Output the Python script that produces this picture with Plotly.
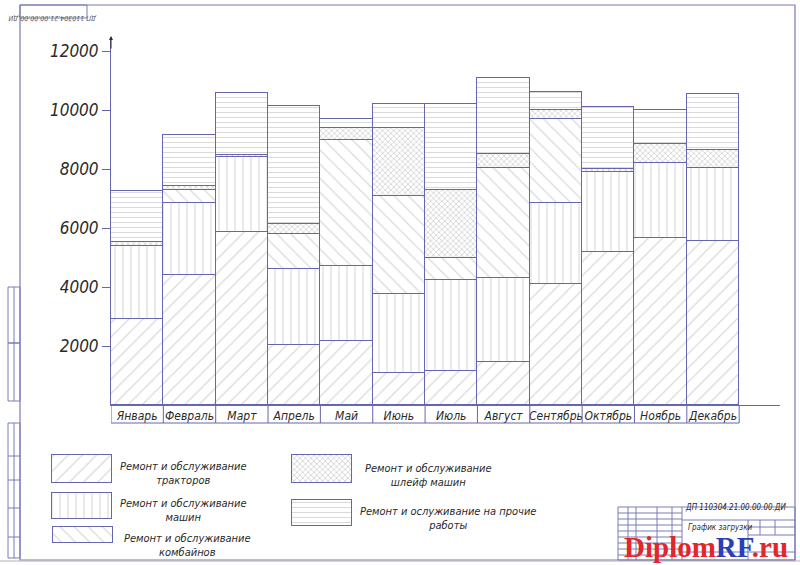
import plotly.graph_objects as go

months = ["Январь", "Февраль", "Март", "Апрель", "Май", "Июнь",
          "Июль", "Август", "Сентябрь", "Октябрь", "Ноябрь", "Декабрь"]

# загрузка по видам работ, чел.-ч (снизу вверх)
tractors = [2900, 4400, 5850, 2050, 2170, 1100, 1150, 1450, 4100, 5200, 5650, 5550]
machines = [2500, 2450, 2550, 2550, 2530, 2650, 3100, 2850, 2750, 2700, 2550, 2470]
combines = [0, 450, 0, 1200, 4300, 3350, 750, 3750, 2850, 0, 0, 0]
schleif = [130, 130, 60, 350, 400, 2300, 2300, 450, 300, 100, 650, 630]
other = [1740, 1720, 2110, 4000, 300, 800, 2900, 2600, 600, 2100, 1150, 1900]

y_ticks = [2000, 4000, 6000, 8000, 10000, 12000]
y_labels = ["2000", "4000", "6000", "8000", "10000", "12000"]

names = [
    "Ремонт и обслуживание<br>тракторов",
    "Ремонт и обслуживание<br>машин",
    "Ремонт и обслуживание<br>комбайнов",
    "Ремонт и обслуживание<br>шлейф машин",
    "Ремонт и ослуживание на прочие<br>работы",
]

W, H = 800, 565
LINE = "#6666b0"
HATCH = "#b4b4b4"
TXT = "#2a2a2a"
FONT = "Liberation Sans Narrow, DejaVu Sans Condensed, Liberation Sans, sans-serif"


def px(x):
    return x / W


def py(y):
    return 1 - y / H


def it(s):
    # italic, line by line
    return "<br>".join(f"<i>{p}</i>" for p in s.split("<br>"))


patterns = [
    dict(shape="/", size=10, solidity=0.12, fgcolor=HATCH, bgcolor="white"),
    dict(shape="|", size=8, solidity=0.14, fgcolor=HATCH, bgcolor="white"),
    dict(shape="\\", size=10, solidity=0.12, fgcolor=HATCH, bgcolor="white"),
    dict(shape="x", size=4, solidity=0.35, fgcolor="#a0a0a8", bgcolor="white"),
    dict(shape="-", size=5, solidity=0.2, fgcolor=HATCH, bgcolor="white"),
]

fig = go.Figure()

for vals, pat, nm in zip([tractors, machines, combines, schleif, other], patterns, names):
    fig.add_trace(go.Bar(
        x=months, y=vals, name=nm, showlegend=False,
        marker=dict(color="white", pattern=pat, line=dict(color=LINE, width=1)),
        hoverinfo="skip",
    ))

# legend swatches (own hidden axes in pixel units)
swatches = [(82, 455, 28), (82, 493, 26), (83, 527, 16), (322, 455, 28), (322, 500, 26)]
text_pos = [(183, 458), (183, 495), (187, 530), (428, 460), (448, 503)]
for (cx, top, h), pat in zip(swatches, patterns):
    fig.add_trace(go.Bar(
        x=[cx], y=[h], base=[top], width=[60], xaxis="x2", yaxis="y2",
        showlegend=False, hoverinfo="skip",
        marker=dict(color="white", pattern=pat, line=dict(color=LINE, width=1)),
    ))
for (tx, ty), nm in zip(text_pos, names):
    fig.add_annotation(x=px(tx), y=py(ty), xref="paper", yref="paper", text=it(nm),
                       showarrow=False, xanchor="center", yanchor="top",
                       font=dict(family=FONT, size=11, color=TXT))

shapes = []
# label boxes under the bars
for i in range(len(months) + 1):
    shapes.append(dict(type="line", xref="x", yref="paper", x0=i - 0.5, x1=i - 0.5,
                       y0=py(423), y1=py(405), line=dict(color=LINE, width=1)))
shapes.append(dict(type="line", xref="x", yref="paper", x0=-0.5, x1=len(months) - 0.5,
                   y0=py(423), y1=py(423), line=dict(color=LINE, width=1)))

# drawing frame and stamps
FR = "#7a7ab8"
def rect(x0, y0, x1, y1, w=1, c=FR):
    shapes.append(dict(type="rect", xref="paper", yref="paper", x0=px(x0), x1=px(x1),
                       y0=py(y1), y1=py(y0), line=dict(color=c, width=w)))

def hline(x0, x1, y, c=FR):
    shapes.append(dict(type="line", xref="paper", yref="paper", x0=px(x0), x1=px(x1),
                       y0=py(y), y1=py(y), line=dict(color=c, width=1)))

def vline(x, y0, y1, c=FR):
    shapes.append(dict(type="line", xref="paper", yref="paper", x0=px(x), x1=px(x),
                       y0=py(y0), y1=py(y1), line=dict(color=c, width=1)))

rect(20, 5, 795, 560, 1.2)
rect(20, 5, 87, 18)
rect(8, 287, 20, 343)
rect(8, 343, 20, 401)
rect(8, 423, 20, 558)
for yy in [456, 480, 508, 537]:
    hline(8, 20, yy)
vline(14, 423, 558)
vline(14, 287, 401)
hline(0, 800, 561, "#b0b0b0")
# title block
rect(618, 507, 795, 560)
hline(682, 795, 520)
for xx in [628, 636, 657, 672, 682]:
    vline(xx, 507, 560)
for yy in [513, 519, 525, 531, 537, 543, 549, 555]:
    hline(618, 682, yy)
vline(748, 520, 560)
for xx in [760, 775]:
    vline(xx, 520, 535)
hline(748, 795, 527)
hline(748, 795, 535)
hline(682, 795, 552)

fig.add_annotation(x=px(53), y=py(11.5), xref="paper", yref="paper", xanchor="center",
                   text="<i>ДП 110304.21.00.00.00.ДИ</i>", showarrow=False, textangle=180,
                   font=dict(family=FONT, size=7, color="#555"))
fig.add_annotation(x=px(735), y=py(513.5), xref="paper", yref="paper", xanchor="center",
                   text="<i>ДП 110304.21.00.00.00.ДИ</i>", showarrow=False,
                   font=dict(family=FONT, size=8, color=TXT))
fig.add_annotation(x=px(686), y=py(521), xref="paper", yref="paper", xanchor="left",
                   yanchor="top", text="<i>График загрузки</i>", showarrow=False,
                   font=dict(family=FONT, size=8, color=TXT))
# watermark
fig.add_annotation(x=px(706), y=py(565), xref="paper", yref="paper", xanchor="center",
                   yanchor="bottom",
                   text="<b><span style='color:#e3262b'>Diplom</span>"
                        "<span style='color:#2a3fb8'>RF</span>"
                        "<span style='color:#e3262b'>.ru</span></b>",
                   showarrow=False,
                   font=dict(family="Liberation Serif, serif", size=29))
# y-axis arrow
fig.add_annotation(x=px(111), y=py(36), xref="paper", yref="paper", ax=0, ay=14,
                   showarrow=True, arrowhead=2, arrowsize=0.8, arrowwidth=1,
                   arrowcolor=TXT, text="")

fig.update_layout(
    width=W, height=H,
    margin=dict(l=0, r=0, t=0, b=0),
    paper_bgcolor="white", plot_bgcolor="rgba(0,0,0,0)",
    barmode="stack", bargap=0,
    hovermode=False,
    shapes=shapes,
    xaxis=dict(domain=[px(111), px(780)], range=[-0.5, 12.28], showline=True,
               linecolor=LINE, linewidth=1, ticks="", showgrid=False, zeroline=False,
               tickangle=0, tickvals=months, ticktext=[it(m) for m in months],
               tickfont=dict(family=FONT, size=12, color=TXT)),
    yaxis=dict(domain=[py(405), py(40)], range=[0, 12375], showline=True,
               linecolor=LINE, linewidth=1, tickvals=y_ticks,
               ticktext=[it(t) for t in y_labels],
               ticks="outside", ticklen=8, tickcolor=LINE, showgrid=False,
               zeroline=False,
               tickfont=dict(family=FONT, size=17, color=TXT)),
    xaxis2=dict(domain=[0, 1], range=[0, W], visible=False, anchor="y2"),
    yaxis2=dict(domain=[0, 1], range=[H, 0], visible=False, anchor="x2"),
)

fig.write_html("out.html", config={"displayModeBar": False},
               post_script="document.body.style.margin='0';")
